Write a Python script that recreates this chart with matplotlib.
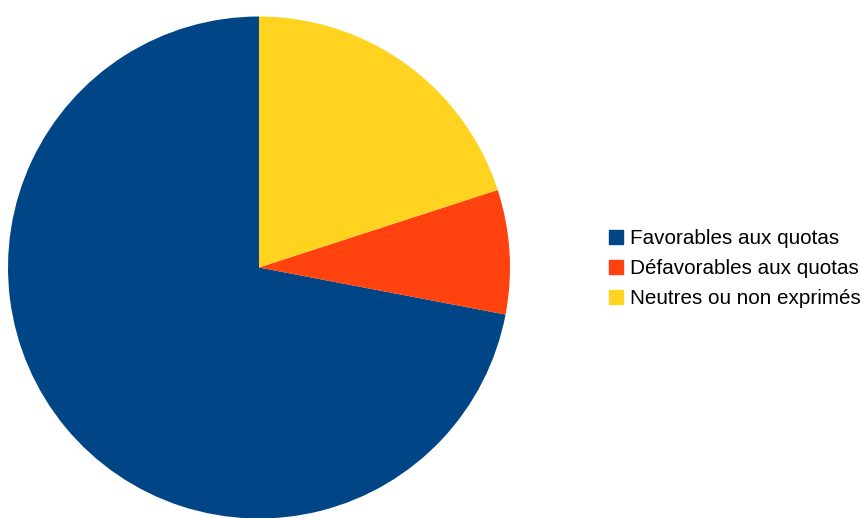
import matplotlib
matplotlib.use('Agg')
import matplotlib.pyplot as plt
from matplotlib.lines import Line2D

plt.rcParams['font.family'] = ['Liberation Sans', 'DejaVu Sans']

labels = ['Favorables aux quotas', 'Défavorables aux quotas', 'Neutres ou non exprimés']
values = [72, 8, 20]
colors = ['#004586', '#ff420e', '#ffd320']

fig = plt.figure(figsize=(8.62, 5.18), dpi=100)

# pie: centre ~ (259, 267.5) px, rayon ~ 251 px
ax = fig.add_axes([8 / 862, -0.5 / 518, 502 / 862, 502 / 518])
ax.pie(values, colors=colors, startangle=90, counterclock=True, radius=1,
       wedgeprops=dict(linewidth=0))
ax.set_xlim(-1, 1)
ax.set_ylim(-1, 1)
ax.set_aspect('equal')
ax.axis('off')

handles = [Line2D([], [], linestyle='none', marker='s', markersize=9.5,
                  markerfacecolor=c, markeredgecolor=c) for c in colors]
fig.legend(handles, labels, loc='center left', bbox_to_anchor=(609 / 862, 1 - 268.5 / 518),
           frameon=False, fontsize=14.9, handlelength=0.7, handletextpad=0.3,
           labelspacing=0.52, borderpad=0, borderaxespad=0)

fig.savefig('out.png', dpi=100)
